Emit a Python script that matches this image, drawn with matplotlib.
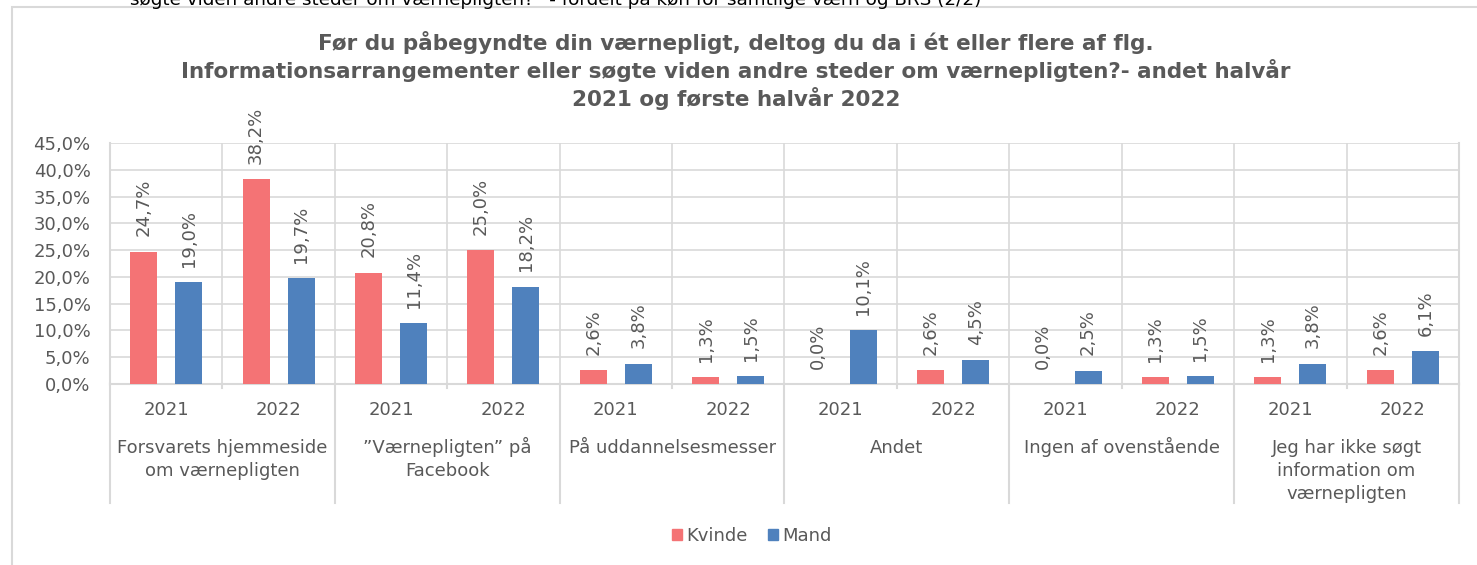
import numpy as np
import matplotlib.pyplot as plt
from matplotlib.patches import Patch, Rectangle
from matplotlib.lines import Line2D

categories = ["Forsvarets hjemmeside\nom værnepligten", "\u201dVærnepligten\u201d på\nFacebook",
              "På uddannelsesmesser", "Andet", "Ingen af ovenstående",
              "Jeg har ikke søgt\ninformation om\nværnepligten"]
years = ["2021", "2022"]
kvinde = [24.7, 38.2, 20.8, 25.0, 2.6, 1.3, 0.0, 2.6, 0.0, 1.3, 1.3, 2.6]
mand = [19.0, 19.7, 11.4, 18.2, 3.8, 1.5, 10.1, 4.5, 2.5, 1.5, 3.8, 6.1]
title_lines = ["Før du påbegyndte din værnepligt, deltog du da i ét eller flere af flg.",
               "Informationsarrangementer eller søgte viden andre steder om værnepligten?- andet halvår",
               "2021 og første halvår 2022"]

W, H = 1477, 565
c_kv = '#F47375'
c_ma = '#4F81BD'
grey = '#595959'
gridc = '#D9D9D9'
fs = 13

fig = plt.figure(figsize=(W / 100, H / 100), dpi=100)
fig.patch.set_facecolor('white')

# outer chart border (continues past right/bottom edge)
fig.patches.append(Rectangle((12 / W, -0.2), 2, 1.2 - 7 / H, transform=fig.transFigure,
                             fill=False, edgecolor=gridc, lw=1.5))

# clipped caption above the chart
fig.text(130 / W, 1 - 5 / H,
         "søgte viden andre steder om værnepligten?\u201d - fordelt på køn for samtlige værn og BRS (2/2)",
         fontsize=13.2, color='black', va='baseline', ha='left')

ax = fig.add_axes([110 / W, 1 - 384 / H, (1459 - 110) / W, (384 - 143) / H])

n = len(kvinde)
x = np.arange(n) + 0.5
bw = 0.24
b1 = ax.bar(x - 0.2, kvinde, bw, color=c_kv, zorder=3)
b2 = ax.bar(x + 0.2, mand, bw, color=c_ma, zorder=3)

for bars, vals in ((b1, kvinde), (b2, mand)):
    for b, v in zip(bars, vals):
        ax.annotate(f"{v:.1f}%".replace('.', ','), (b.get_x() + b.get_width() / 2, v),
                    xytext=(0, 11), textcoords='offset points', rotation=90,
                    ha='center', va='bottom', fontsize=fs, color=grey)

ax.set_xlim(0, n)
ax.set_ylim(0, 45)
ax.set_yticks(np.arange(0, 46, 5))
ax.set_yticklabels([f"{v:.1f}%".replace('.', ',') for v in np.arange(0, 46, 5)])
ax.set_xticks(np.arange(0, n + 1))
ax.set_xticklabels([])
ax.tick_params(length=0, labelsize=fs, labelcolor=grey)
ax.tick_params(axis='y', pad=14)
ax.grid(True, color=gridc, lw=1.2, zorder=0)
ax.set_axisbelow(True)
for s in ['left', 'right', 'bottom']:
    ax.spines[s].set_color(gridc)
    ax.spines[s].set_linewidth(1.5)
ax.spines['top'].set_visible(False)

tr = ax.get_xaxis_transform()
ah = 384 - 143
for i in range(n):
    ax.text(i + 0.5, -26 / ah, years[i % 2], transform=tr, ha='center', va='center',
            fontsize=fs, color=grey)
for j, cat in enumerate(categories):
    for k, line in enumerate(cat.split('\n')):
        ax.text(2 * j + 1, -(69 + 23 * k) / ah, line, transform=tr, ha='center',
                va='baseline', fontsize=fs, color=grey)
for k in range(0, n + 1, 2):
    ax.add_line(Line2D([k, k], [0, -119 / ah], transform=tr, color=gridc, lw=1.5, clip_on=False))
for k in range(1, n, 2):
    ax.add_line(Line2D([k, k], [0, -4 / ah], transform=tr, color=gridc, lw=1.5, clip_on=False))

for k, line in enumerate(title_lines):
    fig.text(736 / W, 1 - (43 + 28 * k) / H, line, ha='center', va='center',
             fontsize=15.5, fontweight='bold', color=grey)

handles = [Patch(color=c_kv, label='Kvinde'), Patch(color=c_ma, label='Mand')]
fig.legend(handles=handles, loc='center', bbox_to_anchor=(752 / W, 1 - 536 / H), ncol=2,
           frameon=False, fontsize=fs, labelcolor=grey, handlelength=0.55, handleheight=0.55,
           handletextpad=0.25, columnspacing=1.1)

fig.savefig('out.png', dpi=100)
